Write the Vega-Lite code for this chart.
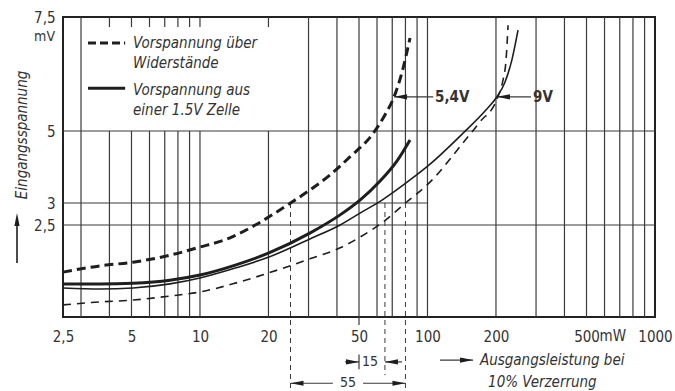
{
  "$schema": "https://vega.github.io/schema/vega-lite/v6.json",
  "width": 592,
  "height": 300,
  "autosize": {"type": "none"},
  "padding": {"left": 63, "top": 17, "right": 20, "bottom": 74},
  "background": "white",
  "config": {
    "view": {"stroke": "#222", "strokeWidth": 2},
    "font": "'DejaVu Sans Condensed', 'Liberation Sans Narrow', sans-serif",
    "axis": {"labelColor": "#333", "labelFontSize": 15, "labelFont": "'DejaVu Sans Condensed', 'Liberation Sans Narrow', sans-serif"}
  },
  "datasets": {
    "curves": [
      {"s": "D1", "x": 2.5, "y": 1.22}, {"s": "D1", "x": 3.64, "y": 1.39}, {"s": "D1", "x": 5.08, "y": 1.49}, {"s": "D1", "x": 7.38, "y": 1.68}, {"s": "D1", "x": 10, "y": 1.9}, {"s": "D1", "x": 13.55, "y": 2.15}, {"s": "D1", "x": 17.5, "y": 2.5}, {"s": "D1", "x": 25, "y": 3.0}, {"s": "D1", "x": 30.4, "y": 3.36}, {"s": "D1", "x": 37.3, "y": 3.78}, {"s": "D1", "x": 45.6, "y": 4.28}, {"s": "D1", "x": 57, "y": 4.89}, {"s": "D1", "x": 65, "y": 5.35}, {"s": "D1", "x": 71.3, "y": 5.75}, {"s": "D1", "x": 77.3, "y": 6.29}, {"s": "D1", "x": 83.8, "y": 7.04},
      {"s": "S1", "x": 2.5, "y": 0.9}, {"s": "S1", "x": 3.64, "y": 0.9}, {"s": "S1", "x": 5.08, "y": 0.92}, {"s": "S1", "x": 7.38, "y": 1.0}, {"s": "S1", "x": 10, "y": 1.14}, {"s": "S1", "x": 14.3, "y": 1.41}, {"s": "S1", "x": 20.1, "y": 1.74}, {"s": "S1", "x": 30.4, "y": 2.28}, {"s": "S1", "x": 41.3, "y": 2.73}, {"s": "S1", "x": 50.5, "y": 3.08}, {"s": "S1", "x": 61.9, "y": 3.61}, {"s": "S1", "x": 73.5, "y": 4.17}, {"s": "S1", "x": 83.8, "y": 4.75},
      {"s": "S2", "x": 2.5, "y": 0.79}, {"s": "S2", "x": 3.64, "y": 0.76}, {"s": "S2", "x": 5.08, "y": 0.79}, {"s": "S2", "x": 7.38, "y": 0.9}, {"s": "S2", "x": 10, "y": 1.06}, {"s": "S2", "x": 14.3, "y": 1.33}, {"s": "S2", "x": 20.1, "y": 1.63}, {"s": "S2", "x": 30.4, "y": 2.12}, {"s": "S2", "x": 41.3, "y": 2.5}, {"s": "S2", "x": 50.5, "y": 2.77}, {"s": "S2", "x": 63.1, "y": 3.08}, {"s": "S2", "x": 83.8, "y": 3.64}, {"s": "S2", "x": 102.6, "y": 4.08}, {"s": "S2", "x": 143.3, "y": 4.94}, {"s": "S2", "x": 179, "y": 5.44}, {"s": "S2", "x": 202, "y": 5.75}, {"s": "S2", "x": 219, "y": 6.07}, {"s": "S2", "x": 235, "y": 6.56}, {"s": "S2", "x": 250, "y": 7.21},
      {"s": "D2", "x": 2.5, "y": 0.33}, {"s": "D2", "x": 3.64, "y": 0.41}, {"s": "D2", "x": 5.08, "y": 0.46}, {"s": "D2", "x": 7.38, "y": 0.57}, {"s": "D2", "x": 10, "y": 0.68}, {"s": "D2", "x": 14.3, "y": 0.92}, {"s": "D2", "x": 20.1, "y": 1.2}, {"s": "D2", "x": 30.4, "y": 1.58}, {"s": "D2", "x": 41.3, "y": 1.88}, {"s": "D2", "x": 50.5, "y": 2.17}, {"s": "D2", "x": 63.8, "y": 2.57}, {"s": "D2", "x": 80, "y": 3.0}, {"s": "D2", "x": 102.6, "y": 3.58}, {"s": "D2", "x": 143.3, "y": 4.67}, {"s": "D2", "x": 170, "y": 5.2}, {"s": "D2", "x": 202, "y": 5.7}, {"s": "D2", "x": 214.8, "y": 6.12}, {"s": "D2", "x": 221.5, "y": 6.56}, {"s": "D2", "x": 226, "y": 7.32}
    ],
    "grid": [
      {"x": 3, "y": 0, "x2": 3, "y2": 7.5}, {"x": 30, "y": 0, "x2": 30, "y2": 7.5}, {"x": 40, "y": 0, "x2": 40, "y2": 7.5}, {"x": 50, "y": 0, "x2": 50, "y2": 7.5}, {"x": 60, "y": 0, "x2": 60, "y2": 7.5}, {"x": 70, "y": 0, "x2": 70, "y2": 7.5}, {"x": 90, "y": 0, "x2": 90, "y2": 7.5}, {"x": 100, "y": 0, "x2": 100, "y2": 7.5}, {"x": 200, "y": 0, "x2": 200, "y2": 7.5}, {"x": 300, "y": 0, "x2": 300, "y2": 7.5}, {"x": 400, "y": 0, "x2": 400, "y2": 7.5}, {"x": 500, "y": 0, "x2": 500, "y2": 7.5}, {"x": 600, "y": 0, "x2": 600, "y2": 7.5}, {"x": 700, "y": 0, "x2": 700, "y2": 7.5}, {"x": 800, "y": 0, "x2": 800, "y2": 7.5}, {"x": 900, "y": 0, "x2": 900, "y2": 7.5},
      {"x": 80, "y": 3, "x2": 80, "y2": 7.5},
      {"x": 4, "y": 0, "x2": 4, "y2": 5}, {"x": 5, "y": 0, "x2": 5, "y2": 5}, {"x": 6, "y": 0, "x2": 6, "y2": 5}, {"x": 7, "y": 0, "x2": 7, "y2": 5}, {"x": 8, "y": 0, "x2": 8, "y2": 5}, {"x": 9, "y": 0, "x2": 9, "y2": 5}, {"x": 10, "y": 0, "x2": 10, "y2": 5}, {"x": 20, "y": 0, "x2": 20, "y2": 5},
      {"x": 4, "y": 7.28, "x2": 4, "y2": 7.5}, {"x": 5, "y": 7.28, "x2": 5, "y2": 7.5}, {"x": 6, "y": 7.28, "x2": 6, "y2": 7.5}, {"x": 7, "y": 7.28, "x2": 7, "y2": 7.5}, {"x": 8, "y": 7.28, "x2": 8, "y2": 7.5}, {"x": 9, "y": 7.28, "x2": 9, "y2": 7.5}, {"x": 10, "y": 7.28, "x2": 10, "y2": 7.5}, {"x": 20, "y": 7.28, "x2": 20, "y2": 7.5},
      {"x": 2.5, "y": 5, "x2": 1000, "y2": 5}, {"x": 2.5, "y": 3, "x2": 100, "y2": 3}, {"x": 2.5, "y": 2.5, "x2": 1000, "y2": 2.5},
      {"x": 50, "y": 0, "x2": 50, "y2": -0.22}, {"x": 50, "y": -1.02, "x2": 50, "y2": -1.42},
      {"x": 71.3, "y": 5.75, "x2": 106, "y2": 5.75}, {"x": 202, "y": 5.75, "x2": 285, "y2": 5.75}, {"x": 113.5, "y": -1.17, "x2": 158.6, "y2": -1.17}, {"x": 43.4, "y": -1.22, "x2": 50, "y2": -1.22}, {"x": 65, "y": -1.22, "x2": 77.3, "y2": -1.22}, {"x": 25, "y": -1.8, "x2": 38.4, "y2": -1.8}, {"x": 52.1, "y": -1.8, "x2": 80, "y2": -1.8}
    ],
    "guides": [
      {"x": 25, "y": 3, "x2": 25, "y2": -1.96}, {"x": 65, "y": 3, "x2": 65, "y2": -1.58}, {"x": 80, "y": 3, "x2": 80, "y2": -1.96}
    ],
    "heads": [
      {"x": 71.3, "y": 5.75, "d": "L"}, {"x": 202, "y": 5.75, "d": "L"}, {"x": 158.6, "y": -1.17, "d": "R"}, {"x": 50, "y": -1.22, "d": "R"}, {"x": 65, "y": -1.22, "d": "L"}, {"x": 25, "y": -1.8, "d": "L"}, {"x": 80, "y": -1.8, "d": "R"}
    ],
    "legendD": [{"x": 3.22, "y": 6.93, "x2": 4.69, "y2": 6.93}],
    "legendS": [{"x": 3.22, "y": 5.94, "x2": 4.69, "y2": 5.94}],
    "italicTexts": [
      {"x": 5.08, "y": 6.93, "t": "Vorspannung über"}, {"x": 5.08, "y": 6.49, "t": "Widerstände"}, {"x": 5.08, "y": 5.9, "t": "Vorspannung aus"}, {"x": 5.08, "y": 5.46, "t": "einer 1.5V Zelle"}, {"x": 170, "y": -1.17, "t": "Ausgangsleistung bei"}, {"x": 184.6, "y": -1.77, "t": "10% Verzerrung"}
    ],
    "boldTexts": [{"x": 108, "y": 5.75, "t": "5,4V"}, {"x": 291, "y": 5.75, "t": "9V"}],
    "centerTexts": [{"x": 55.9, "y": -1.22, "t": "15"}, {"x": 44.7, "y": -1.8, "t": "55"}]
  },
  "encoding": {
    "x": {"field": "x", "type": "quantitative", "scale": {"type": "log", "domain": [2.5, 1000], "nice": false},
      "axis": {"values": [2.5, 5, 10, 20, 50, 100, 200, 500, 1000], "labelExpr": "datum.value == 2.5 ? '2,5' : format(datum.value, 'd')", "domain": false, "ticks": false, "grid": false, "title": null, "labelPadding": 12, "labelFlush": false, "labelOverlap": false}},
    "y": {"field": "y", "type": "quantitative", "scale": {"type": "linear", "domain": [-2.5, 0, 2.5, 3, 5, 7.5], "range": [392, 300, 208, 186, 114, 0], "nice": false, "zero": false},
      "axis": {"values": [2.5, 3, 5, 7.5], "labelExpr": "datum.value == 7.5 ? '7,5' : datum.value == 2.5 ? '2,5' : format(datum.value, 'd')", "domain": false, "ticks": false, "grid": false, "title": null, "labelPadding": 8, "labelOverlap": false}}
  },
  "layer": [
    {"data": {"name": "grid"}, "mark": {"type": "rule", "color": "#3a3a3a", "strokeWidth": 1.2},
     "encoding": {"x2": {"field": "x2"}, "y2": {"field": "y2"}}},
    {"data": {"name": "guides"}, "mark": {"type": "rule", "color": "#3a3a3a", "strokeWidth": 1, "strokeDash": [5, 4]},
     "encoding": {"x2": {"field": "x2"}, "y2": {"field": "y2"}}},
    {"data": {"name": "curves"}, "transform": [{"filter": "datum.s == 'D1'"}], "mark": {"type": "line", "color": "#1e1e1e", "strokeWidth": 3, "strokeDash": [9, 5], "interpolate": "monotone"}, "encoding": {}},
    {"data": {"name": "curves"}, "transform": [{"filter": "datum.s == 'S1'"}], "mark": {"type": "line", "color": "#1e1e1e", "strokeWidth": 3, "interpolate": "monotone"}, "encoding": {}},
    {"data": {"name": "curves"}, "transform": [{"filter": "datum.s == 'S2'"}], "mark": {"type": "line", "color": "#1e1e1e", "strokeWidth": 1.6, "interpolate": "monotone"}, "encoding": {}},
    {"data": {"name": "curves"}, "transform": [{"filter": "datum.s == 'D2'"}], "mark": {"type": "line", "color": "#1e1e1e", "strokeWidth": 1.6, "strokeDash": [8, 6], "interpolate": "monotone"}, "encoding": {}},
    {"data": {"name": "legendD"}, "mark": {"type": "rule", "color": "#1e1e1e", "strokeWidth": 3, "strokeDash": [8, 4]},
     "encoding": {"x2": {"field": "x2"}, "y2": {"field": "y2"}}},
    {"data": {"name": "legendS"}, "mark": {"type": "rule", "color": "#1e1e1e", "strokeWidth": 3},
     "encoding": {"x2": {"field": "x2"}, "y2": {"field": "y2"}}},
    {"data": {"name": "heads"}, "mark": {"type": "point", "filled": true, "color": "#1e1e1e", "opacity": 1, "size": 169},
     "encoding": {"shape": {"field": "d", "type": "nominal", "scale": {"domain": ["L", "R", "U"], "range": ["M0,0L2,-0.4L2,0.4Z", "M0,0L-2,-0.4L-2,0.4Z", "M0,0L-0.4,2L0.4,2Z"]}, "legend": null}}},
    {"data": {"values": [{"x": 2.5, "y": 1.47, "y2": 2.6}]}, "mark": {"type": "rule", "xOffset": -46, "color": "#1e1e1e", "strokeWidth": 1.6},
     "encoding": {"y2": {"field": "y2"}}},
    {"data": {"values": [{"x": 2.5, "y": 2.77}]}, "mark": {"type": "point", "xOffset": -46, "filled": true, "color": "#1e1e1e", "opacity": 1, "size": 169, "shape": "M0,0L-0.4,2L0.4,2Z"}, "encoding": {}},
    {"data": {"name": "italicTexts"}, "mark": {"type": "text", "align": "left", "baseline": "middle", "fontStyle": "italic", "fontSize": 15, "color": "#333"},
     "encoding": {"text": {"field": "t"}}},
    {"data": {"name": "boldTexts"}, "mark": {"type": "text", "align": "left", "baseline": "middle", "fontWeight": "bold", "fontSize": 15, "color": "#333"},
     "encoding": {"text": {"field": "t"}}},
    {"data": {"name": "centerTexts"}, "mark": {"type": "text", "align": "center", "baseline": "middle", "fontSize": 14, "color": "#333"},
     "encoding": {"text": {"field": "t"}}},
    {"data": {"values": [{"x": 2.5, "y": 7.07, "t": "mV"}]}, "mark": {"type": "text", "align": "right", "baseline": "middle", "dx": -8, "fontSize": 14, "color": "#333"},
     "encoding": {"text": {"field": "t"}}},
    {"data": {"values": [{"x": 500, "y": 0, "t": "mW"}]}, "mark": {"type": "text", "align": "left", "baseline": "alphabetic", "dx": 13, "dy": 24, "fontSize": 15, "color": "#333"},
     "encoding": {"text": {"field": "t"}}},
    {"data": {"values": [{"x": 2.5, "y": 4.89, "t": "Eingangsspannung"}]}, "mark": {"type": "text", "align": "center", "baseline": "middle", "angle": 270, "dy": -41, "fontStyle": "italic", "fontSize": 15, "color": "#333"},
     "encoding": {"text": {"field": "t"}}}
  ]
}
